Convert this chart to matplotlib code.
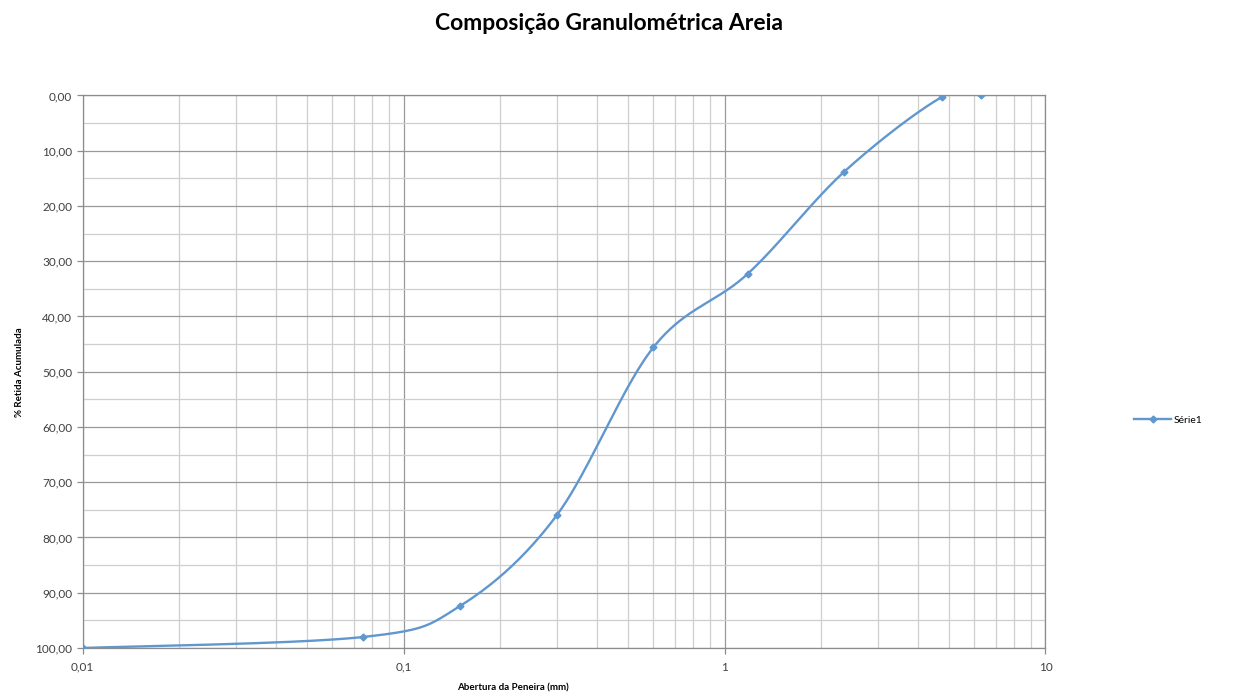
import numpy as np
import matplotlib
matplotlib.use("Agg")
import matplotlib.pyplot as plt
from matplotlib.ticker import FixedLocator, FuncFormatter, LogLocator, MultipleLocator

# ---------- dados ----------
abertura = [0.01, 0.075, 0.15, 0.3, 0.6, 1.18, 2.36, 4.75, 6.3]
retida = [100.0, 98.0, 92.4, 76.0, 45.6, 32.3, 13.8, 0.3, 0.0]
serie = "Série1"
titulo = "Composição Granulométrica Areia"
xlabel = "Abertura da Peneira (mm)"
ylabel = "% Retida Acumulada"

plt.rcParams["font.family"] = ["Lato", "DejaVu Sans"]


def suaviza(xs, ys, n=40):
    # curva suavizada tipo Excel (bezier com tangentes catmull-rom) em log-x
    lx = np.log10(xs)
    y = np.asarray(ys, float)
    px, py = [], []
    m = len(lx)
    for i in range(m - 1):
        p0 = np.array([lx[max(i - 1, 0)], y[max(i - 1, 0)]])
        p1 = np.array([lx[i], y[i]])
        p2 = np.array([lx[i + 1], y[i + 1]])
        p3 = np.array([lx[min(i + 2, m - 1)], y[min(i + 2, m - 1)]])
        c1 = p1 + (p2 - p0) / 6
        c2 = p2 - (p3 - p1) / 6
        t = np.linspace(0, 1, n)[:, None]
        b = (1 - t) ** 3 * p1 + 3 * (1 - t) ** 2 * t * c1 + 3 * (1 - t) * t ** 2 * c2 + t ** 3 * p2
        px.extend(b[:, 0]); py.extend(b[:, 1])
    return 10 ** np.array(px), np.array(py)


fig = plt.figure(figsize=(12.43, 6.97), dpi=100)
ax = fig.add_axes([0.0664, 0.0703, 0.7747, 0.7927])

cor = "#6197cf"
sx, sy = suaviza(abertura, retida)
ax.plot(sx, sy, color=cor, lw=1.7, zorder=3)
ax.plot(abertura, retida, ls="none", marker="D", ms=3.5, color=cor, zorder=4)
# legenda
ax.plot([], [], color=cor, lw=1.7, marker="D", ms=3.5, label=serie)

ax.set_xscale("log")
ax.set_xlim(0.01, 10)
ax.set_ylim(100, 0)

ax.xaxis.set_major_locator(FixedLocator([0.01, 0.1, 1, 10]))
ax.xaxis.set_minor_locator(LogLocator(base=10, subs=np.arange(2, 10)))
ax.xaxis.set_major_formatter(FuncFormatter(lambda v, p: f"{v:g}".replace(".", ",")))
ax.xaxis.set_minor_formatter(FuncFormatter(lambda v, p: ""))
ax.yaxis.set_major_locator(MultipleLocator(10))
ax.yaxis.set_minor_locator(MultipleLocator(5))
ax.yaxis.set_major_formatter(FuncFormatter(lambda v, p: f"{v:.2f}".replace(".", ",")))

ax.grid(which="major", color="#999999", lw=0.9)
ax.grid(which="minor", color="#cfcfcf", lw=0.9)
ax.set_axisbelow(True)
for s in ax.spines.values():
    s.set_color("#8c8c8c")
    s.set_linewidth(0.9)

ax.tick_params(axis="both", which="major", colors="#8c8c8c", labelcolor="#404040",
               labelsize=8.5, length=4, width=0.9)
ax.tick_params(axis="y", which="minor", length=0)
ax.tick_params(axis="x", which="minor", length=0)
ax.tick_params(axis="x", pad=6)

fig.text(513 / 1243, 1 - 688 / 697, xlabel, fontsize=7, fontweight="bold",
         ha="center", va="center")
fig.text(20 / 1243, 1 - 372 / 697, ylabel, fontsize=7, fontweight="bold",
         ha="center", va="center", rotation=90)

fig.text(609 / 1243, 1 - 24 / 697, titulo, fontsize=16.5, fontweight="bold",
         ha="center", va="center")

fig.legend(loc="center left", bbox_to_anchor=(0.905, 0.397), frameon=False,
           fontsize=7.5, handlelength=3.5, handletextpad=0.3)

fig.savefig("out.png", dpi=100)
